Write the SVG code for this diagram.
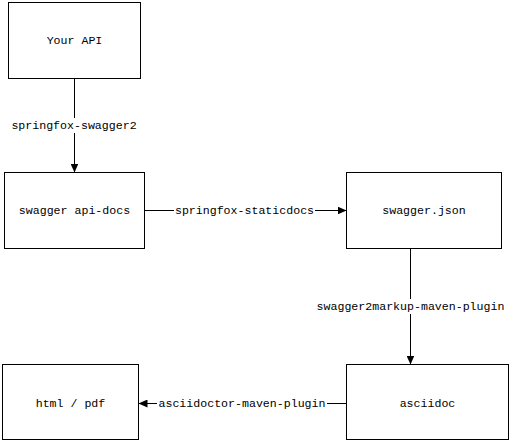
<svg xmlns="http://www.w3.org/2000/svg" width="509" height="441" viewBox="0 0 509 441">
<defs>
<style>
.box{fill:#fff;stroke:#000;stroke-width:1}
.t{font-family:"Liberation Mono","Noto Sans CJK SC",monospace;font-size:11.6px;fill:#000;text-anchor:middle;dominant-baseline:central}
.e{stroke:#000;stroke-width:1;fill:none}
.lb{fill:#fff}
</style>
<marker id="ah" viewBox="0 0 9 8" refX="9" refY="4" markerWidth="9" markerHeight="8" markerUnits="userSpaceOnUse" orient="auto">
<path d="M0,0 L9,4 L0,8 Z" fill="#000"/>
</marker>
</defs>
<rect width="509" height="441" fill="#fff"/>
<g id="connectors">
<g id="e1"><line class="e" x1="74.5" y1="78.5" x2="74.5" y2="172.5" marker-end="url(#ah)"/><rect class="lb" x="10" y="118" width="128" height="15"/><text class="t" x="74" y="125.5">springfox-swagger2</text></g>
<g id="e2"><line class="e" x1="144.5" y1="210.5" x2="346.5" y2="210.5" marker-end="url(#ah)"/><rect class="lb" x="174" y="203" width="141" height="15"/><text class="t" x="244.5" y="210.5">springfox-staticdocs</text></g>
<g id="e3"><line class="e" x1="410.5" y1="248.5" x2="410.5" y2="364.5" marker-end="url(#ah)"/><rect class="lb" x="315" y="299" width="191" height="15"/><text class="t" x="410.5" y="306.5">swagger2markup-maven-plugin</text></g>
<g id="e4"><line class="e" x1="346.5" y1="403.5" x2="138.5" y2="403.5" marker-end="url(#ah)"/><rect class="lb" x="157" y="396" width="170" height="15"/><text class="t" x="242" y="403.5">asciidoctor-maven-plugin</text></g>
</g>
<g id="n-your-api"><rect class="box" x="8.5" y="2.5" width="132" height="76"/><text class="t" x="74.5" y="40.5">Your API</text></g>
<g id="n-api-docs"><rect class="box" x="4.5" y="172.5" width="140" height="76"/><text class="t" x="74.5" y="210.5">swagger api-docs</text></g>
<g id="n-swagger-json"><rect class="box" x="346.5" y="172.5" width="155" height="76"/><text class="t" x="424" y="210.5">swagger.json</text></g>
<g id="n-html-pdf"><rect class="box" x="2.5" y="364.5" width="136" height="75"/><text class="t" x="70.5" y="403.5">html / pdf</text></g>
<g id="n-asciidoc"><rect class="box" x="346.5" y="364.5" width="162" height="75"/><text class="t" x="427.5" y="403.5">asciidoc</text></g>
</svg>
